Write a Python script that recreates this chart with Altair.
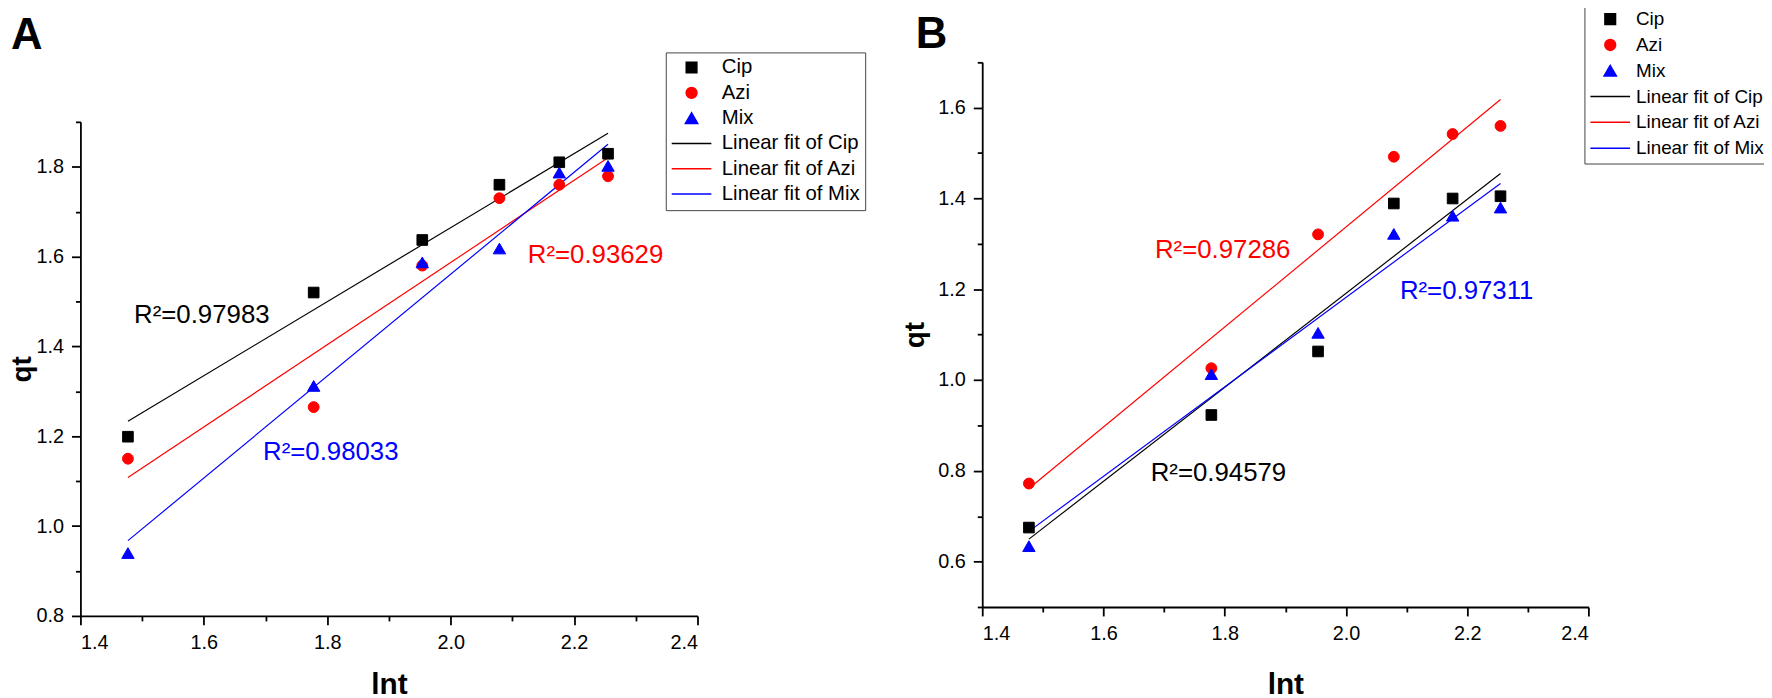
import pandas as pd
import altair as alt

# %%
# shared x values (log t) and the measured qt values for both panels
x_vals = [1.477, 1.778, 1.954, 2.079, 2.176, 2.255]

cip_a = [1.199, 1.520, 1.637, 1.760, 1.810, 1.829]
azi_a = [1.150, 1.265, 1.580, 1.730, 1.760, 1.779]
mix_a = [0.940, 1.312, 1.587, 1.618, 1.787, 1.802]

cip_b = [0.675, 0.923, 1.063, 1.389, 1.400, 1.405]
azi_b = [0.772, 1.026, 1.321, 1.492, 1.542, 1.560]
mix_b = [0.634, 1.013, 1.104, 1.322, 1.362, 1.380]

series = ["Cip", "Azi", "Mix"]
legend_names = ["Cip", "Azi", "Mix",
                "Linear fit of Cip", "Linear fit of Azi", "Linear fit of Mix"]

# R^2 annotations
r2_text_a = ["R²=0.97983", "R²=0.93629", "R²=0.98033"]
r2_x_a = [1.487, 2.125, 1.696]
r2_y_a = [1.470, 1.604, 1.165]
r2_col_a = ["black", "red", "blue"]

r2_text_b = ["R²=0.97286", "R²=0.97311", "R²=0.94579"]
r2_x_b = [1.685, 2.089, 1.678]
r2_y_b = [1.287, 1.197, 0.795]
r2_col_b = ["red", "blue", "black"]

# tick positions (major every 0.2, minor in between)
x_ticks = [1.4, 1.5, 1.6, 1.7, 1.8, 1.9, 2.0, 2.1, 2.2, 2.3, 2.4]
y_ticks_a = [0.8, 0.9, 1.0, 1.1, 1.2, 1.3, 1.4, 1.5, 1.6, 1.7, 1.8, 1.9]
y_ticks_b = [0.5, 0.6, 0.7, 0.8, 0.9, 1.0, 1.1, 1.2, 1.3, 1.4, 1.5, 1.6, 1.7]

FONT = "Liberation Sans"
INDEP = dict(fill="independent", stroke="independent",
             shape="independent", size="independent")

# %%
fill_scale = alt.Scale(domain=legend_names,
                       range=["black", "red", "blue", "black", "red", "blue"])
shape_scale = alt.Scale(domain=legend_names,
                        range=["square", "circle", "triangle-up",
                               "stroke", "stroke", "stroke"])
size_scale = alt.Scale(type="ordinal", domain=legend_names,
                       range=[115, 120, 155, 1600, 1600, 1600])

label_expr = "round(datum.value*10) % 2 == 0 ? format(datum.value, '.1f') : ''"
tick_size = {"condition": {"test": "round(datum.value*10) % 2 == 0", "value": 9},
             "value": 5}


def panel_title(letter, dx, dy):
    return alt.TitleParams(letter, anchor="start", frame="group", dx=dx,
                           dy=dy, offset=4, baseline="alphabetic",
                           fontSize=44, font=FONT, fontWeight="bold",
                           color="black")


def legend(lx, ly, size, off):
    return alt.Legend(title=None, orient="none", legendX=lx, legendY=ly,
                      columns=1, padding=5, labelFontSize=size,
                      labelFont=FONT, labelColor="black", labelOffset=off,
                      rowPadding=25 - size, clipHeight=size,
                      symbolStrokeWidth=1.5, strokeColor="#444",
                      fillColor="white")


def long_table(cip, azi, mix):
    rows = []
    for name, vals in zip(series, [cip, azi, mix]):
        for xv, yv in zip(x_vals, vals):
            rows.append({"x": xv, "y": yv, "label": name})
    return pd.DataFrame(rows)


def panel(df, r2df, ydom, yticks, w, h, leg, x_tp, y_tp):
    X = alt.X("x:Q", title="lnt",
              scale=alt.Scale(domain=[1.4, 2.4], nice=False, zero=False),
              axis=alt.Axis(values=x_ticks, labelExpr=label_expr,
                            tickSize=tick_size, titlePadding=x_tp))
    Y = alt.Y("y:Q", title="qt",
              scale=alt.Scale(domain=ydom, nice=False, zero=False),
              axis=alt.Axis(values=yticks, labelExpr=label_expr,
                            tickSize=tick_size, titlePadding=y_tp,
                            titleFontSize=28))
    base = alt.Chart(df)
    pts = base.mark_point(filled=True, opacity=1, strokeWidth=1).encode(
        x=X, y=Y,
        fill=alt.Fill("label:N", scale=fill_scale, legend=leg),
        stroke=alt.Stroke("label:N", scale=fill_scale, legend=leg),
        shape=alt.Shape("label:N", scale=shape_scale, legend=leg),
        size=alt.Size("label:N", scale=size_scale, legend=leg),
    )
    fit = (
        base.transform_regression("x", "y", groupby=["label"])
        .transform_calculate(label="'Linear fit of ' + datum.label")
        .mark_line(strokeWidth=1.2)
        .encode(x=X, y=Y,
                stroke=alt.Stroke("label:N", scale=fill_scale, legend=leg))
    )
    txt = alt.Chart(r2df).mark_text(
        align="left", baseline="middle", font=FONT, fontSize=26
    ).encode(x=X, y=Y, text="t:N", color=alt.Color("c:N", scale=None))
    return alt.layer(fit, pts, txt).properties(width=w, height=h)


df_a = long_table(cip_a, azi_a, mix_a)
df_b = long_table(cip_b, azi_b, mix_b)
r2_a = pd.DataFrame({"t": r2_text_a, "x": r2_x_a, "y": r2_y_a, "c": r2_col_a})
r2_b = pd.DataFrame({"t": r2_text_b, "x": r2_x_b, "y": r2_y_b, "c": r2_col_b})

# panel A: its legend is lifted to the column, its letter sits on a spacer
chart_a = panel(df_a, r2_a, [0.8, 1.9], y_ticks_a, 622, 498,
                legend(590, -10, 20.5, 9.5), 17, 0)
spacer = alt.Chart(pd.DataFrame({"t": [""]})).mark_text().encode(
    text="t:N").properties(width=1, height=59, title=panel_title("A", -70, 35))
col_a = alt.vconcat(spacer, chart_a, spacing=0)

chart_b = panel(df_b, r2_b, [0.5, 1.7], y_ticks_b, 611, 549,
                legend(607, -58, 19, 5), 26, 8).properties(
    title=panel_title("B", -67, 92))

chart = (
    alt.hconcat(col_a, chart_b, spacing=36)
    .resolve_scale(**INDEP)
    .resolve_legend(**INDEP)
    .properties(padding={"left": 0, "top": -7, "right": -6, "bottom": 0})
    .configure_view(stroke=None)
    .configure_axis(grid=False, domainColor="black", domainWidth=1.8,
                    tickColor="black", tickWidth=1.8, labelColor="black",
                    labelFont=FONT, labelFontSize=20, labelPadding=8,
                    titleFont=FONT, titleFontSize=30, titleFontWeight="bold",
                    titleColor="black")
)

chart.save("out.html", embed_options={"renderer": "svg", "actions": False})
